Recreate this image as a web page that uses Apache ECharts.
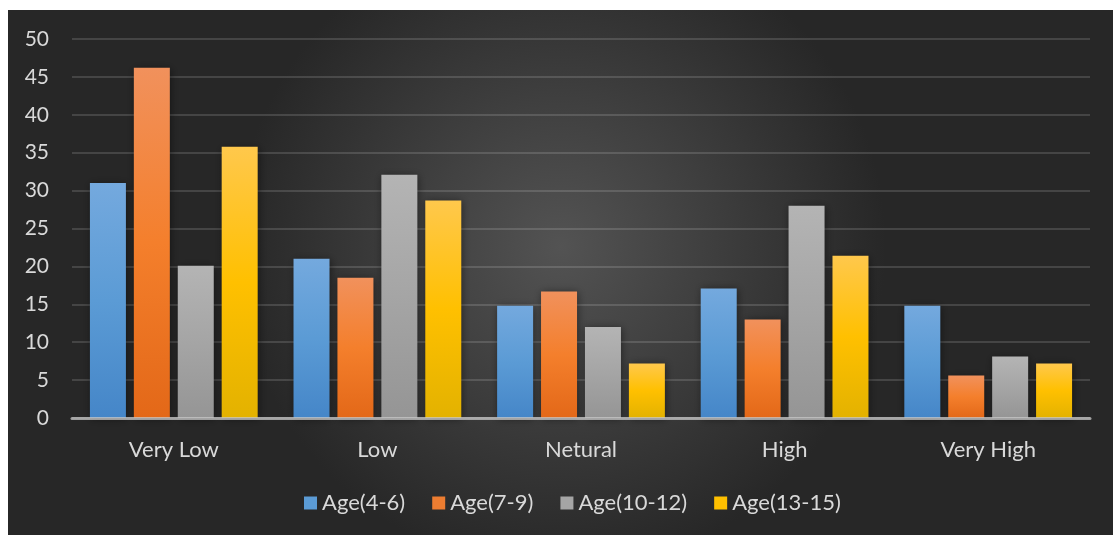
<!DOCTYPE html>
<html>
<head>
<meta charset="utf-8">
<script src="https://cdn.jsdelivr.net/npm/echarts@6/dist/echarts.min.js"></script>
<style>
html,body{margin:0;padding:0;background:#fff;}
#c{width:1113px;height:535px;}
</style>
</head>
<body>
<div id="c"></div>
<script>
const categories = ['Very Low', 'Low', 'Netural', 'High', 'Very High'];
const seriesNames = ['Age(4-6)', 'Age(7-9)', 'Age(10-12)', 'Age(13-15)'];
const age4to6 = [31, 21, 14.8, 17.1, 14.8];
const age7to9 = [46.2, 18.5, 16.7, 13, 5.6];
const age10to12 = [20.1, 32.1, 12, 28, 8.1];
const age13to15 = [35.8, 28.7, 7.2, 21.4, 7.2];
const yTicks = [0, 5, 10, 15, 20, 25, 30, 35, 40, 45, 50];

const values = [age4to6, age7to9, age10to12, age13to15];
const grads = [
  ['#74a9de', '#5b9bd5', '#4586c8'],
  ['#f1915c', '#f47f2c', '#e36818'],
  ['#b4b4b4', '#a5a5a5', '#959595'],
  ['#ffc84c', '#ffc000', '#e3b200']
];
const legendColors = ['#5b9bd5', '#ed7d31', '#a5a5a5', '#ffc000'];
function vg(c) {
  return new echarts.graphic.LinearGradient(0, 0, 0, 1, [
    {offset: 0, color: c[0]}, {offset: 0.5, color: c[1]}, {offset: 1, color: c[2]}
  ]);
}
const font = 'Lato, "Open Sans", sans-serif';
const chart = echarts.init(document.getElementById('c'));
chart.setOption({
  animation: false,
  backgroundColor: '#ffffff',
  graphic: [{
    type: 'rect', z: -10, silent: true,
    shape: {x: 8, y: 10, width: 1105, height: 525},
    style: {
      fill: new echarts.graphic.RadialGradient(0.5, 0.45, 0.62, [
        {offset: 0, color: '#535353'},
        {offset: 1, color: '#272727'}
      ])
    }
  }],
  grid: {left: 72, right: 23, top: 39, bottom: 117},
  legend: {
    bottom: 16, left: 299,
    itemWidth: 13, itemHeight: 13, itemGap: 27,
    icon: 'rect',
    textStyle: {color: '#d9d9d9', fontSize: 22, fontFamily: font},
    data: seriesNames.map((n, i) => ({name: n, itemStyle: {color: legendColors[i]}}))
  },
  xAxis: {
    type: 'category', data: categories, z: 5,
    axisLine: {show: true, lineStyle: {color: 'rgba(200,200,200,0.75)', width: 3}},
    axisTick: {show: false},
    axisLabel: {color: '#d9d9d9', fontSize: 22, fontFamily: font, margin: 21}
  },
  yAxis: {
    type: 'value', min: yTicks[0], max: yTicks[yTicks.length - 1], interval: yTicks[1] - yTicks[0],
    axisLine: {show: false}, axisTick: {show: false},
    axisLabel: {color: '#d9d9d9', fontSize: 21, fontFamily: font, margin: 23},
    splitLine: {lineStyle: {color: 'rgba(255,255,255,0.14)', width: 2}}
  },
  series: seriesNames.map((n, i) => ({
    name: n, type: 'bar', data: values[i],
    barWidth: 36, barGap: '22%',
    itemStyle: {color: vg(grads[i]), shadowBlur: 8, shadowColor: 'rgba(0,0,0,0.45)', shadowOffsetX: 1, shadowOffsetY: 1}
  }))
});
</script>
</body>
</html>
